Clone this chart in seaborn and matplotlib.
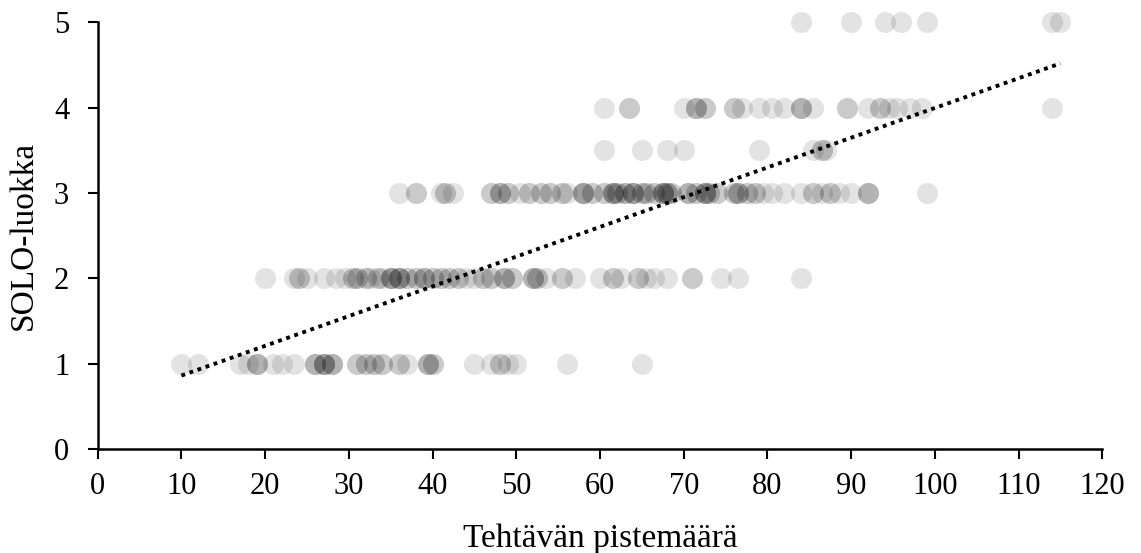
import numpy as np
import pandas as pd
import seaborn as sns
from matplotlib import pyplot as plt

sns.set_style("ticks")
plt.rcParams["font.family"] = ["Liberation Serif", "DejaVu Serif"]
plt.rcParams["text.color"] = "black"
plt.rcParams["axes.labelcolor"] = "black"
plt.rcParams["xtick.color"] = "black"
plt.rcParams["ytick.color"] = "black"

# Tehtävän pistemäärät SOLO-luokittain (toistot = päällekkäiset pisteet)
solo_1 = [10, 12, 17, 18, 19, 19, 19, 21, 22, 23.5, 26, 26, 26, 27, 27, 27, 27,
          28, 28, 28, 31, 31, 32, 32, 33, 33, 34, 34, 36, 36, 37, 39.5, 39.5,
          39.5, 40, 40, 45, 47, 48, 48, 49, 50, 56, 65]
solo_2 = [20, 23.5, 24, 24, 25, 27, 28.5, 29.5, 30.5, 30.5, 31, 31, 32, 32, 32.5,
          33.5, 33.5, 34, 35, 35, 35, 35, 36, 36, 36, 36, 37, 37, 38, 38, 39, 39,
          39, 40, 40, 41, 41, 42, 42, 43, 43, 44, 45, 46, 46, 47, 47, 48.5, 48.5,
          48.5, 49.5, 49.5, 52, 52, 52, 52.5, 52.5, 53.5, 55.5, 55.5, 57, 60,
          61.5, 61.5, 62.5, 64.5, 64.5, 65.5, 66.5, 68, 71, 71, 74.5, 76.5, 84]
solo_3 = [36, 38, 38, 41, 41.5, 41.5, 42.5, 47, 47, 48, 48, 48, 49, 49, 50.5,
          51.5, 51.5, 53, 53, 54, 54, 55.5, 55.5, 56, 58, 58, 58, 58, 59, 59,
          60.5, 60.5, 61.5, 61.5, 61.5, 61.5, 62, 62, 63, 63, 63, 64, 64, 64, 64,
          65, 65, 65.5, 65.5, 66.5, 66.5, 67.5, 67.5, 67.5, 67.5, 68, 68, 68,
          68.5, 68.5, 70.5, 70.5, 70.5, 71.5, 71.5, 72.5, 72.5, 72.5, 72.5, 73,
          73, 74, 74, 76, 76, 76.5, 76.5, 76.5, 77.5, 77.5, 78.5, 78.5, 79.5,
          80.5, 82, 84, 85.5, 85.5, 86.5, 87.5, 87.5, 88.5, 90, 92, 92, 92, 99]
solo_35 = [60.5, 65, 68, 70, 79, 85.5, 86.5, 86.5, 87]
solo_4 = [60.5, 63.5, 63.5, 70, 71.5, 71.5, 71.5, 72.5, 72.5, 76, 76, 77, 79,
          80.5, 82, 84, 84, 84, 85.5, 89.5, 89.5, 92, 93.5, 93.5, 94.5, 95.5, 97,
          98.5, 114]
solo_5 = [84, 90, 94, 96, 99, 114, 115]

# lineaarinen trendiviiva (kuvasta luettu)
trend_slope = 0.0348
trend_intercept = 0.515

luokat = {1: solo_1, 2: solo_2, 3: solo_3, 3.5: solo_35, 4: solo_4, 5: solo_5}
df = pd.DataFrame([(x, k) for k, v in luokat.items() for x in v],
                  columns=["pisteet", "solo"])

trend_x = np.array([df["pisteet"].min(), df["pisteet"].max()])
trend = pd.DataFrame({"pisteet": trend_x,
                      "solo": trend_intercept + trend_slope * trend_x})

fig = plt.figure(figsize=(11.41, 5.53), dpi=100)
ax = fig.add_axes([0.0856, 0.1875, 0.8805, 0.7725])

sns.scatterplot(data=df, x="pisteet", y="solo", color="black", alpha=0.11,
                s=230, linewidth=0, ax=ax, clip_on=False, zorder=3)
sns.lineplot(data=trend, x="pisteet", y="solo", color="black", lw=2.8,
             linestyle=(0, (1, 1.2)), dash_capstyle="butt", zorder=4, ax=ax)

ax.set_xlim(0, 120)
ax.set_ylim(0, 5)
ax.set_xticks(range(0, 121, 10))
ax.set_yticks(range(0, 6))
ax.tick_params(axis="both", labelsize=22, length=7.5, width=1.5, color="black")
ax.tick_params(axis="y", pad=13)
ax.tick_params(axis="x", pad=9)
for s in ["left", "bottom"]:
    ax.spines[s].set_linewidth(1.8)
    ax.spines[s].set_color("black")
sns.despine(ax=ax)

ax.set_xlabel("Tehtävän pistemäärä", fontsize=24, labelpad=16)
ax.set_ylabel("SOLO-luokka", fontsize=24, labelpad=11)

fig.savefig("out.png", dpi=100)
